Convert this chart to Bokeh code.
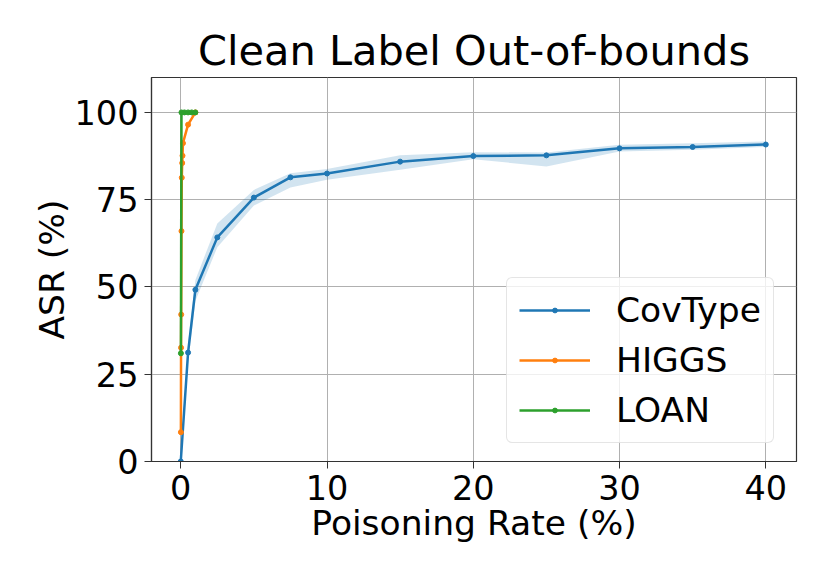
from bokeh.plotting import figure
from bokeh.models import Legend, LegendItem, FixedTicker, Range1d
from bokeh.embed import file_html
from bokeh.resources import INLINE

# ---- data ----
cov_x = [0, 0.5, 1, 2.5, 5, 7.5, 10, 15, 20, 25, 30, 35, 40]
cov_y = [0, 31.2, 49.2, 64.2, 75.6, 81.4, 82.5, 85.9, 87.5, 87.7, 89.7, 90.1, 90.8]
cov_lo = [0, 28.0, 46.0, 61.4, 73.3, 78.5, 80.7, 83.6, 86.6, 84.5, 88.8, 89.3, 90.1]
cov_hi = [0, 34.0, 52.0, 68.2, 77.8, 82.6, 83.8, 87.7, 88.6, 88.5, 90.7, 91.2, 91.7]

higgs_x = [0.01, 0.02, 0.03, 0.05, 0.07, 0.1, 0.12, 0.15, 0.5, 1.0]
higgs_y = [8.4, 32.6, 42.1, 66.0, 81.3, 85.5, 87.6, 91.2, 96.5, 100.0]

loan_x = [0.01, 0.05, 0.25, 0.5, 0.75, 1.0]
loan_y = [31.0, 100.0, 100.0, 100.0, 100.0, 100.0]

x_ticks = [0, 10, 20, 30, 40]
y_ticks = [0, 25, 50, 75, 100]

title_text = "Clean Label Out-of-bounds"
x_label = "Poisoning Rate (%)"
y_label = "ASR (%)"
names = ["CovType", "HIGGS", "LOAN"]
colors = ["#1f77b4", "#ff7f0e", "#2ca02c"]

FONT = "DejaVu Sans"

p = figure(
    output_backend="svg", toolbar_location=None,
    frame_width=645, frame_height=384,
    min_border_left=151, min_border_top=77, min_border_right=26, min_border_bottom=100,
    x_range=Range1d(-2, 42.1), y_range=Range1d(0, 110),
    title=title_text,
)
p.background_fill_color = "white"
p.border_fill_color = "white"
p.outline_line_color = "#333333"
p.outline_line_width = 1.2

p.title.align = "center"
p.title.text_font = FONT
p.title.text_font_size = "41.5px"
p.title.text_font_style = "normal"
p.title.text_color = "black"
p.title.standoff = 6

for ax in (p.xaxis[0], p.yaxis[0]):
    ax.axis_label_text_font = FONT
    ax.axis_label_text_font_style = "normal"
    ax.axis_label_text_font_size = "34.5px"
    ax.axis_label_text_color = "black"
    ax.major_label_text_font = FONT
    ax.major_label_text_font_size = "33.5px"
    ax.major_label_text_color = "black"
    ax.minor_tick_line_color = None
    ax.major_tick_out = 7
    ax.major_tick_in = 0
    ax.major_tick_line_color = "#333333"
    ax.axis_line_color = "#333333"
    ax.axis_line_width = 1.2

p.xaxis.axis_label = x_label
p.yaxis.axis_label = y_label
p.xaxis.ticker = FixedTicker(ticks=x_ticks)
p.yaxis.ticker = FixedTicker(ticks=y_ticks)
p.xaxis.major_label_standoff = 6
p.yaxis.major_label_standoff = 6
p.xaxis.axis_label_standoff = 0
p.yaxis.axis_label_standoff = 0

p.xgrid.grid_line_color = "#b0b0b0"
p.ygrid.grid_line_color = "#b0b0b0"
p.xgrid.grid_line_width = 1
p.ygrid.grid_line_width = 1
p.xgrid.ticker = FixedTicker(ticks=x_ticks)
p.ygrid.ticker = FixedTicker(ticks=y_ticks)

p.varea(x=cov_x, y1=cov_lo, y2=cov_hi, fill_color=colors[0], fill_alpha=0.2)

items = []
for (xs, ys), name, c in zip([(cov_x, cov_y), (higgs_x, higgs_y), (loan_x, loan_y)], names, colors):
    l = p.line(xs, ys, line_color=c, line_width=2.5)
    s = p.scatter(xs, ys, marker="circle", size=5, fill_color=c, line_color=c)
    items.append(LegendItem(label=name, renderers=[l, s]))

legend = Legend(
    items=items, location=(355, 18),
    label_text_font=FONT, label_text_font_size="34.5px", label_text_color="black",
    glyph_width=71, glyph_height=12, label_height=40, label_standoff=26,
    spacing=10, padding=12, margin=0,
    border_line_color="#cccccc", border_line_width=1,
    background_fill_color="white", background_fill_alpha=0.8,
)
if "border_radius" in Legend.properties():
    legend.border_radius = 6
p.add_layout(legend, "center")

open("out.html", "w").write(file_html(p, INLINE))
